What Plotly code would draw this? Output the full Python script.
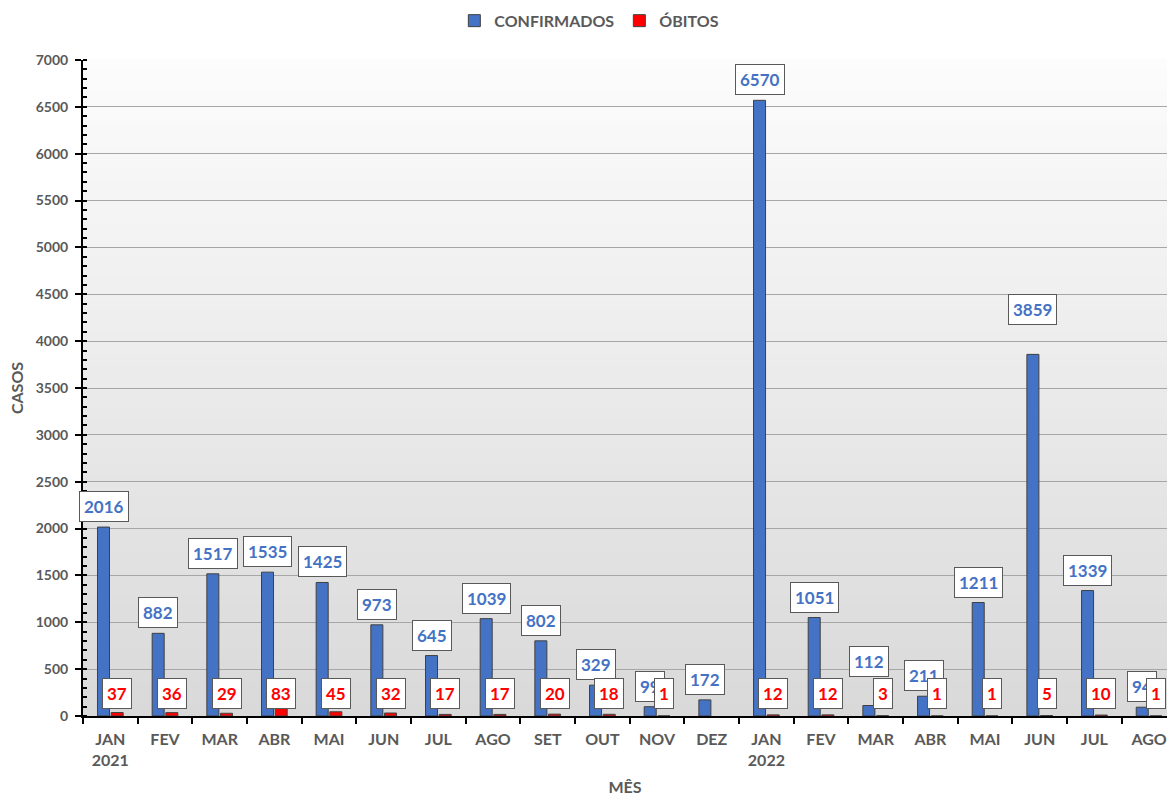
import plotly.graph_objects as go

# monthly data, Jan 2021 - Aug 2022
months = ["JAN<br>2021", "FEV", "MAR", "ABR", "MAI", "JUN", "JUL", "AGO", "SET", "OUT",
          "NOV", "DEZ", "JAN<br>2022", "FEV", "MAR", "ABR", "MAI", "JUN", "JUL", "AGO"]
confirmados = [2016, 882, 1517, 1535, 1425, 973, 645, 1039, 802, 329,
               99, 172, 6570, 1051, 112, 211, 1211, 3859, 1339, 94]
obitos = [37, 36, 29, 83, 45, 32, 17, 17, 20, 18,
          1, None, 12, 12, 3, 1, 1, 5, 10, 1]
# a couple of labels were dragged upward in the original chart
label_raise = {14: 24, 17: 24}

BLUE = "#4472C4"
RED = "#FF0000"
GRAY_TXT = "#595959"
FONT = "Lato"

x_idx = list(range(len(months)))

fig = go.Figure()

fig.add_trace(go.Bar(
    x=x_idx, y=confirmados, name="CONFIRMADOS",
    marker=dict(color=BLUE, line=dict(color="#404040", width=1)),
))
fig.add_trace(go.Bar(
    x=x_idx, y=obitos, name="ÓBITOS",
    marker=dict(color=RED, line=dict(color="#404040", width=1)),
))

# gradient plot background made from thin bands
n_bands = 60
top = (252, 252, 252)
bot = (217, 217, 217)
for k in range(n_bands):
    t = k / (n_bands - 1)
    c = tuple(round(top[j] + (bot[j] - top[j]) * t) for j in range(3))
    fig.add_shape(
        type="rect", xref="paper", yref="paper",
        x0=0, x1=1, y0=1 - (k + 1) / n_bands, y1=1 - k / n_bands + 0.002,
        fillcolor=f"rgb{c}", line=dict(width=0), layer="below",
    )

# data labels: confirmed above bars, deaths at a fixed height near the axis
for i, v in enumerate(confirmados):
    fig.add_annotation(
        x=i - 0.125, y=v, xref="x", yref="y", text=f"<b>{v}</b>",
        showarrow=False, yanchor="bottom", yshift=5 + label_raise.get(i, 0),
        font=dict(family=FONT, size=17, color=BLUE),
        bgcolor="white", bordercolor="#595959", borderwidth=1, borderpad=4,
    )
for i, v in enumerate(obitos):
    if v is None:
        continue
    fig.add_annotation(
        x=i + 0.125, y=0, xref="x", yref="y", text=f"<b>{v}</b>",
        showarrow=False, yanchor="bottom", yshift=7,
        font=dict(family=FONT, size=17, color=RED),
        bgcolor="white", bordercolor="#595959", borderwidth=1, borderpad=4,
    )

fig.update_layout(
    width=1167, height=798,
    margin=dict(l=83, r=0, t=60, b=82),
    paper_bgcolor="white", plot_bgcolor="rgba(0,0,0,0)",
    barmode="group", bargap=0.5, bargroupgap=0.12,
    font=dict(family=FONT, color=GRAY_TXT),
    legend=dict(
        orientation="h", xref="container", yref="container",
        x=0.505, y=0.974, xanchor="center", yanchor="middle",
        font=dict(family=FONT, size=16, color=GRAY_TXT, weight="bold"),
        itemwidth=30,
    ),
    showlegend=True,
)

fig.update_xaxes(
    type="linear",
    tickmode="array", tickvals=x_idx,
    ticktext=[f"<b>{m}</b>".replace("<br>", "</b><br><b>") for m in months],
    range=[-0.5, -0.5 + 1084 / 54.67],
    showline=True, linecolor="black", linewidth=2,
    showgrid=False, zeroline=False, automargin=False,
    tickfont=dict(family=FONT, size=16, color=GRAY_TXT),
    ticklabelstandoff=8,
    title=dict(text="<b>MÊS</b>", font=dict(family=FONT, size=16, color=GRAY_TXT), standoff=14),
)
# boundary ticks between months
fig.update_xaxes(ticks="", minor=dict(tickmode="array", tickvals=[i + 0.5 for i in x_idx[:-1]] + [-0.5],
                                       ticks="outside", ticklen=6, tickwidth=2, tickcolor="black", showgrid=False))

fig.update_yaxes(
    range=[0, 7000], dtick=500, tick0=0,
    showline=True, linecolor="black", linewidth=2,
    showgrid=True, gridcolor="#a6a6a6", gridwidth=1, zeroline=False, automargin=False,
    ticks="outside", ticklen=6, tickwidth=2, tickcolor="black",
    minor=dict(dtick=100, ticks="inside", ticklen=4, tickwidth=1.5, tickcolor="black", showgrid=False),
    tickfont=dict(family=FONT, size=14, color=GRAY_TXT, weight="bold"),
    ticklabelstandoff=4,
    title=dict(text="<b>CASOS</b>", font=dict(family=FONT, size=16, color=GRAY_TXT), standoff=8),
)

# the page body has a default 8px margin; remove it so the figure sits at the corner
fig.write_html("out.html", config={"displayModeBar": False},
               post_script="document.body.style.margin='0';")
